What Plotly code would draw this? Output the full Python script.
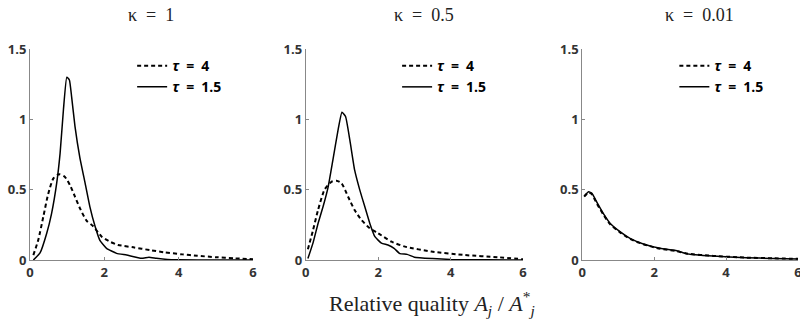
import plotly.graph_objects as go

# ---- data ----
kappa_titles = ["κ\u2002=\u20021", "κ\u2002=\u20020.5", "κ\u2002=\u20020.01"]
legend_names = ["<i>τ</i>\u2002=\u20024", "<i>τ</i>\u2002=\u20021.5"]

k1_t4_x = [0.09, 0.22, 0.36, 0.49, 0.63, 0.78, 0.94, 1.08, 1.21, 1.34, 1.52, 1.70, 1.93, 2.15, 2.37, 2.78, 3.23, 3.6, 4.1, 4.5, 5.0, 5.5, 6.0]
k1_t4_y = [0.035, 0.14, 0.31, 0.47, 0.58, 0.61, 0.59, 0.53, 0.45, 0.37, 0.28, 0.24, 0.166, 0.13, 0.107, 0.09, 0.07, 0.055, 0.04, 0.03, 0.02, 0.012, 0.005]
k1_t15_x = [0.09, 0.27, 0.45, 0.58, 0.72, 0.81, 0.9, 0.99, 1.06, 1.12, 1.21, 1.34, 1.48, 1.61, 1.75, 1.88, 2.06, 2.33, 2.6, 3.0, 3.2, 3.4, 3.7, 4.0, 5.0, 6.0]
k1_t15_y = [0.0, 0.05, 0.19, 0.33, 0.55, 0.76, 1.07, 1.30, 1.28, 1.16, 0.95, 0.73, 0.55, 0.38, 0.24, 0.14, 0.083, 0.047, 0.035, 0.012, 0.02, 0.012, 0.004, 0.002, 0.0, 0.0]

k05_t4_x = [0.06, 0.2, 0.34, 0.52, 0.71, 0.85, 0.99, 1.17, 1.35, 1.54, 1.77, 2.0, 2.37, 2.74, 3.47, 4.4, 5.3, 6.0]
k05_t4_y = [0.076, 0.21, 0.355, 0.50, 0.556, 0.564, 0.545, 0.45, 0.355, 0.284, 0.225, 0.19, 0.13, 0.095, 0.06, 0.035, 0.02, 0.005]
k05_t15_x = [0.06, 0.2, 0.34, 0.48, 0.62, 0.75, 0.89, 1.0, 1.1, 1.22, 1.35, 1.49, 1.63, 1.77, 1.91, 2.09, 2.27, 2.44, 2.6, 2.8, 3.0, 3.5, 4.0, 5.0, 6.0]
k05_t15_y = [0.01, 0.12, 0.26, 0.38, 0.52, 0.71, 0.92, 1.05, 1.02, 0.85, 0.64, 0.50, 0.38, 0.26, 0.166, 0.12, 0.107, 0.083, 0.045, 0.04, 0.02, 0.01, 0.004, 0.001, 0.0]

k001_x = [0.056, 0.18, 0.27, 0.41, 0.59, 0.78, 1.06, 1.33, 1.70, 2.17, 2.63, 2.9, 3.64, 4.56, 5.3, 6.0]
k001_t4_y = [0.45, 0.48, 0.468, 0.40, 0.322, 0.253, 0.195, 0.15, 0.112, 0.08, 0.063, 0.046, 0.029, 0.017, 0.012, 0.008]
k001_t15_y = [0.455, 0.485, 0.474, 0.41, 0.33, 0.26, 0.20, 0.154, 0.114, 0.083, 0.066, 0.045, 0.028, 0.016, 0.011, 0.007]

x_tickvals = [0, 2, 4, 6]
y_tickvals = [0, 0.5, 1, 1.5]
y_ticktext = ["0", "0.5", "1", "1.5"]
x_title = "Relative quality <i>A<sub>j</sub></i> / <i>A</i><sup>*</sup><sub><i>j</i></sub>"

panels = [
    (k1_t4_x, k1_t4_y, k1_t15_x, k1_t15_y),
    (k05_t4_x, k05_t4_y, k05_t15_x, k05_t15_y),
    (k001_x, k001_t4_y, k001_x, k001_t15_y),
]

domains = [[0.0, 0.2904], [0.359, 0.642], [0.719, 1.0]]
legend_x = [0.133, 0.478, 0.839]

fig = go.Figure()
tickfont = dict(family="Open Sans", size=13, color="#333", weight="bold")

for i, (x4, y4, x15, y15) in enumerate(panels):
    n = "" if i == 0 else str(i + 1)
    leg = "legend" if i == 0 else f"legend{i+1}"
    fig.add_trace(go.Scatter(x=x4, y=y4, mode="lines", name=legend_names[0],
                             line=dict(color="black", width=2, dash="4px,3px", shape="spline", smoothing=0.6),
                             xaxis="x" + n, yaxis="y" + n, legend=leg))
    fig.add_trace(go.Scatter(x=x15, y=y15, mode="lines", name=legend_names[1],
                             line=dict(color="black", width=1.5, shape="spline", smoothing=0.4),
                             xaxis="x" + n, yaxis="y" + n, legend=leg))
    ax = dict(domain=domains[i], range=[0, 6], tickvals=x_tickvals,
              showline=True, linecolor="#888", linewidth=1, ticks="inside",
              ticklen=3, tickcolor="#888", showgrid=False, zeroline=False,
              tickfont=tickfont, anchor="y" + n, fixedrange=True, automargin=False,
              ticklabeloverflow="allow")
    ay = dict(range=[0, 1.5], tickvals=y_tickvals, ticktext=y_ticktext,
              showline=True, linecolor="#888", linewidth=1, ticks="inside",
              ticklen=3, tickcolor="#888", showgrid=False, zeroline=False,
              tickfont=tickfont, anchor="x" + n, domain=[0, 1], fixedrange=True,
              automargin=False, ticklabeloverflow="allow")
    fig.layout["xaxis" + n] = ax
    fig.layout["yaxis" + n] = ay
    fig.layout[leg] = dict(x=legend_x[i], y=0.995, xanchor="left", yanchor="top",
                           bgcolor="rgba(0,0,0,0)",
                           font=dict(family="Open Sans", size=14, color="black", weight="bold"),
                           tracegroupgap=0, itemwidth=30)
    fig.add_annotation(text=kappa_titles[i], xref="paper", yref="paper",
                       x=(domains[i][0] + domains[i][1]) / 2 + 0.012, y=1.0, yshift=34,
                       showarrow=False, xanchor="center", yanchor="middle",
                       font=dict(family="Liberation Serif", size=18, color="#222"))

fig.add_annotation(text=x_title, xref="paper", yref="paper", x=0.523, y=0, yshift=-43,
                   showarrow=False, xanchor="center", yanchor="middle",
                   font=dict(family="Liberation Serif", size=22, color="#222"))

fig.update_layout(width=800, height=330, margin=dict(l=30, r=2, t=49, b=70, autoexpand=False),
                  plot_bgcolor="white", paper_bgcolor="white", showlegend=True)

fig.write_html("out.html",
               config={"displayModeBar": False, "staticPlot": True},
               post_script="document.body.style.margin='0';document.body.style.overflow='hidden';")
